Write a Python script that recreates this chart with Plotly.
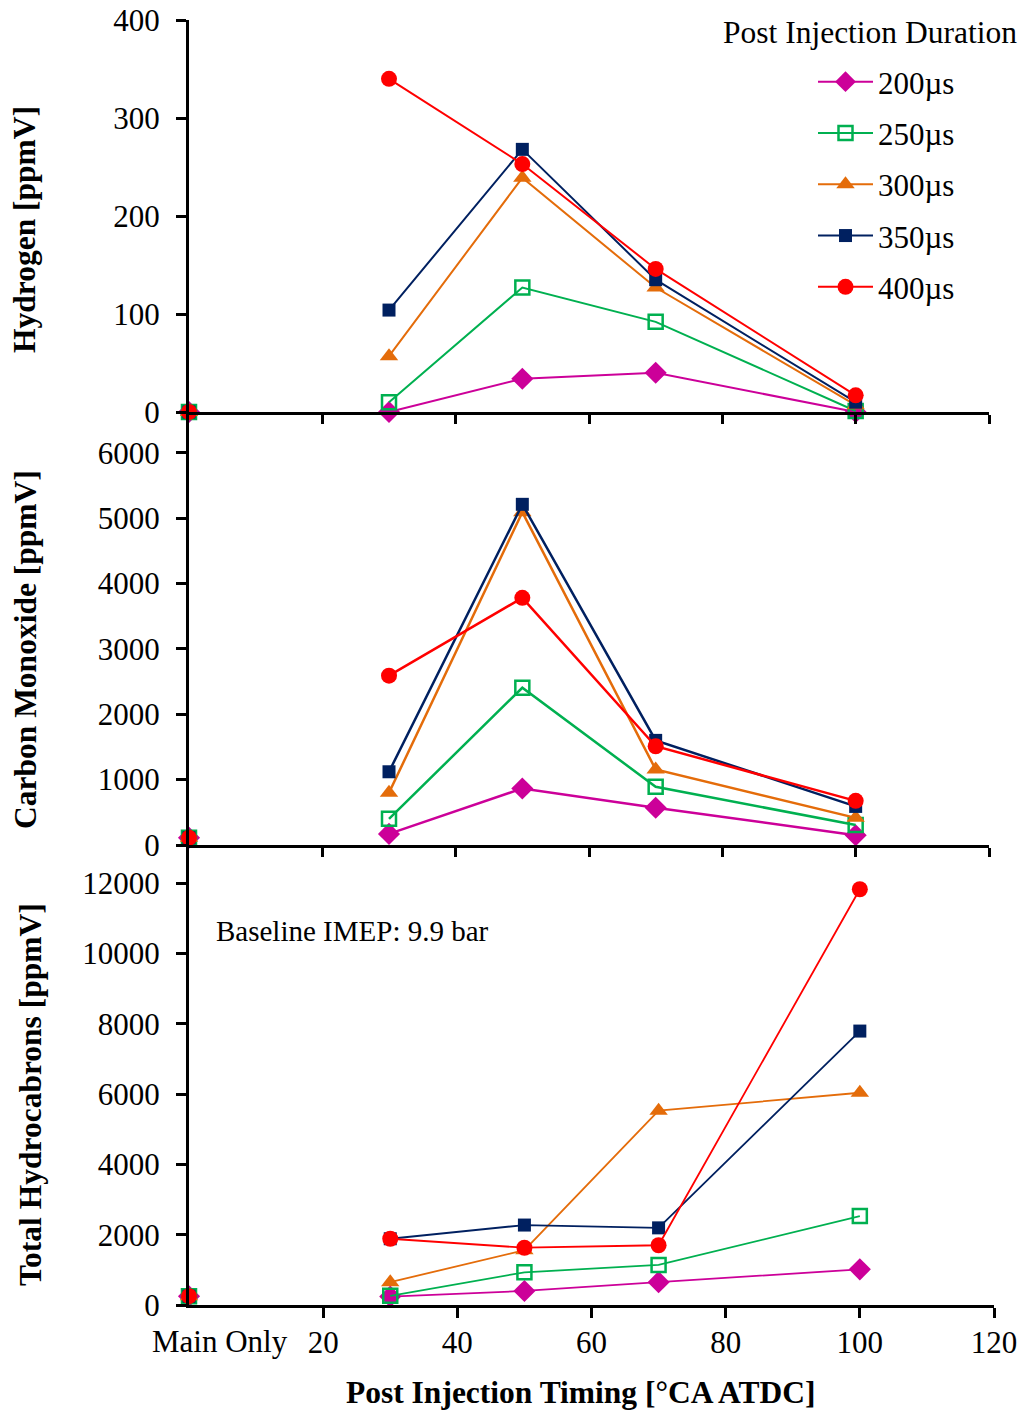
import plotly.graph_objects as go

W, H = 1030, 1414

timing = [0, 30, 50, 70, 100]
durations = ["200µs", "250µs", "300µs", "350µs", "400µs"]

h2_200 = [0, 0, 34, 40, 0]
h2_250 = [0, 10, 127, 92, 1]
h2_300 = [0, 57, 239, 127, 7]
h2_350 = [0, 104, 268, 135, 10]
h2_400 = [0, 340, 253, 146, 17]

co_200 = [110, 170, 865, 570, 150]
co_250 = [110, 400, 2405, 890, 305]
co_300 = [110, 800, 5090, 1155, 415]
co_350 = [110, 1120, 5210, 1600, 590]
co_400 = [110, 2590, 3780, 1510, 675]

thc_200 = [250, 240, 400, 650, 1015]
thc_250 = [250, 260, 930, 1140, 2530]
thc_300 = [250, 650, 1560, 5530, 6040]
thc_350 = [250, 1885, 2275, 2195, 7795]
thc_400 = [250, 1885, 1630, 1700, 11830]

x_tick_vals = [20, 40, 60, 80, 100, 120]
x_tick_text = ["20", "40", "60", "80", "100", "120"]
main_only_label = "Main Only"

colors = ["#CC0099", "#00B050", "#E46C0A", "#002060", "#FF0000"]
symbols = ["diamond", "square-open", "triangle-up", "square", "circle"]
msizes = [17, 14, 16, 13, 16]

panels = [
    ([h2_200, h2_250, h2_300, h2_350, h2_400], "x", "y", 2.0),
    ([co_200, co_250, co_300, co_350, co_400], "x2", "y2", 2.5),
    ([thc_200, thc_250, thc_300, thc_350, thc_400], "x3", "y3", 1.8),
]

FONT = "Liberation Serif"
FS = 31

def pxx(px):
    return px / W

def py(px):
    return (H - px) / H

def marker(i):
    return dict(symbol=symbols[i], size=msizes[i], color=colors[i],
                line=dict(color=colors[i], width=2.5 if symbols[i] == "square-open" else 0))

fig = go.Figure()
for pi, (series, xa, ya, lw) in enumerate(panels):
    for i, vals in enumerate(series):
        fig.add_trace(go.Scatter(
            x=timing[1:], y=vals[1:], xaxis=xa, yaxis=ya,
            mode="lines+markers", name=durations[i],
            legendgroup=durations[i], showlegend=(pi == 0),
            line=dict(color=colors[i], width=lw),
            marker=marker(i), cliponaxis=False,
        ))
    for i, vals in enumerate(series):
        fig.add_trace(go.Scatter(
            x=timing[:1], y=vals[:1], xaxis=xa, yaxis=ya,
            mode="markers", name=durations[i],
            legendgroup=durations[i], showlegend=False,
            marker=marker(i), cliponaxis=False,
        ))

axis_common = dict(showline=True, linewidth=3, linecolor="black", ticks="outside",
                   tickwidth=3, tickcolor="black", showgrid=False, zeroline=False,
                   ticklabeloverflow="allow",
                   tickfont=dict(family=FONT, size=FS, color="black"))

Y0_TOP, Y0_MID, Y0_BOT = 412, 845, 1305

fig.update_layout(
    width=W, height=H, autosize=False,
    margin=dict(l=0, r=0, t=0, b=0, autoexpand=False),
    paper_bgcolor="white", plot_bgcolor="white",
    font=dict(family=FONT, size=FS, color="black"),
    xaxis=dict(domain=[pxx(189), pxx(989)], range=[0, 120], anchor="y",
               tickvals=x_tick_vals, showticklabels=False, ticklen=9, **axis_common),
    xaxis2=dict(domain=[pxx(189), pxx(989)], range=[0, 120], anchor="y2",
                tickvals=x_tick_vals, showticklabels=False, ticklen=9, **axis_common),
    xaxis3=dict(domain=[pxx(189), pxx(994)], range=[0, 120], anchor="y3",
                tickvals=x_tick_vals, ticktext=x_tick_text, ticklen=10,
                ticklabelstandoff=-2, **axis_common),
    yaxis=dict(domain=[py(Y0_TOP), py(20)], range=[0, 400], anchor="x",
               tickvals=[0, 100, 200, 300, 400], ticklen=10, ticklabelstandoff=10,
               tickformat="d", **axis_common),
    yaxis2=dict(domain=[py(Y0_MID), py(Y0_TOP)], range=[0, 6622], anchor="x2",
                tickvals=[0, 1000, 2000, 3000, 4000, 5000, 6000], ticklen=10,
                ticklabelstandoff=10, tickformat="d", **axis_common),
    yaxis3=dict(domain=[py(Y0_BOT), py(Y0_MID)], range=[0, 13090], anchor="x3",
                tickvals=[0, 2000, 4000, 6000, 8000, 10000, 12000], ticklen=10,
                ticklabelstandoff=10, tickformat="d", **axis_common),
    legend=dict(x=pxx(813), xanchor="left", y=py(55), yanchor="top",
                font=dict(family=FONT, size=FS, color="black"),
                itemwidth=55,
                bgcolor="rgba(0,0,0,0)", traceorder="grouped", tracegroupgap=8),
)

TFS = 31.5
annotations = [
    dict(text="Post Injection Duration", x=pxx(870), y=py(32), xref="paper", yref="paper",
         showarrow=False, font=dict(family=FONT, size=TFS), xanchor="center", yanchor="middle"),
    dict(text="Baseline IMEP: 9.9 bar", x=pxx(214), y=py(931), xref="paper", yref="paper",
         showarrow=False, font=dict(family=FONT, size=29), xanchor="left", yanchor="middle"),
    dict(text="<b>Hydrogen [ppmV]</b>", x=pxx(25), y=py(230), xref="paper", yref="paper",
         showarrow=False, textangle=-90, font=dict(family=FONT, size=TFS), xanchor="center", yanchor="middle"),
    dict(text="<b>Carbon Monoxide [ppmV]</b>", x=pxx(25), y=py(650), xref="paper", yref="paper",
         showarrow=False, textangle=-90, font=dict(family=FONT, size=TFS), xanchor="center", yanchor="middle"),
    dict(text="<b>Total Hydrocabrons [ppmV]</b>", x=pxx(30), y=py(1095), xref="paper", yref="paper",
         showarrow=False, textangle=-90, font=dict(family=FONT, size=TFS), xanchor="center", yanchor="middle"),
    dict(text="<b>Post Injection Timing [°CA ATDC]</b>", x=pxx(580), y=py(1392), xref="paper", yref="paper",
         showarrow=False, font=dict(family=FONT, size=TFS), xanchor="center", yanchor="middle"),
    dict(text=main_only_label, x=0, y=0, xref="x3", yref="y3", yshift=-36, xshift=31,
         showarrow=False, font=dict(family=FONT, size=FS), xanchor="center", yanchor="middle"),
]
fig.update_layout(annotations=annotations)

fig.write_html(
    "out.html",
    config={"displayModeBar": False},
    post_script="document.body.style.margin='0';document.body.style.overflow='hidden';",
)
